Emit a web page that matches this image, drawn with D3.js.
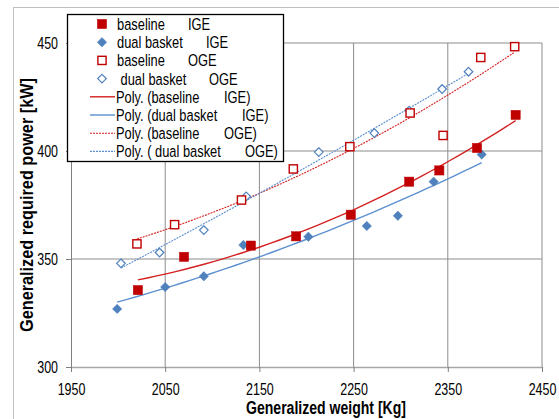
<!DOCTYPE html>
<html><head><meta charset="utf-8">
<script src="https://cdn.jsdelivr.net/npm/d3@7"></script>
<style>
html,body{margin:0;padding:0;background:#fff;}
text{font-family:"Liberation Sans",Arial,sans-serif;fill:#000;}
</style></head>
<body><svg id="c" width="559" height="419"></svg>
<script>
// ---- data ----
const xTicks = [1950, 2050, 2150, 2250, 2350, 2450];
const yTicks = [300, 350, 400, 450];
const baselineIGE_x = [2021, 2070, 2141, 2189, 2247, 2309, 2341, 2381, 2422];
const baselineIGE_y = [335.6, 351, 356.2, 360.5, 370.5, 385.8, 391, 401.4, 416.7];
const dualIGE_x = [1999, 2050, 2091, 2133, 2202, 2264, 2297, 2335, 2386];
const dualIGE_y = [326.9, 337, 342, 356.5, 360.3, 365.3, 370, 385.8, 398.4];
const baselineOGE_x = [2020, 2060, 2131, 2186, 2246, 2310, 2345, 2385, 2421];
const baselineOGE_y = [357, 365.9, 377.3, 391.7, 402, 417.6, 407.2, 443.3, 448.3];
const dualOGE_x = [2003, 2044, 2091, 2136, 2213, 2272, 2309, 2344, 2372];
const dualOGE_y = [348, 353, 363.4, 379, 399.5, 408.3, 418.7, 428.7, 436.7];
const seriesNames = [["baseline", "IGE"], ["dual basket", "IGE"], ["baseline", "OGE"], [" dual basket", "OGE"]];
const trendNames = [["Poly. (baseline", "IGE)"], ["Poly. (dual basket", "IGE)"], ["Poly. (baseline", "OGE)"], ["Poly. ( dual basket", "OGE)"]];
const xTitle = "Generalized weight [Kg]";
const yTitle = "Generalized required power [kW]";

const RED = "#C00000", BLUE = "#4F81BD", TRED = "#D42020", TBLUE = "#5B8FD0";
const series = [
  {x: baselineIGE_x, y: baselineIGE_y, shape: "square", fill: true, color: RED, tcolor: TRED, dash: null},
  {x: dualIGE_x, y: dualIGE_y, shape: "diamond", fill: true, color: BLUE, tcolor: TBLUE, dash: null},
  {x: baselineOGE_x, y: baselineOGE_y, shape: "square", fill: false, color: RED, tcolor: TRED, dash: "2,1"},
  {x: dualOGE_x, y: dualOGE_y, shape: "diamond", fill: false, color: BLUE, tcolor: TBLUE, dash: "2,1"}
];

// condense text horizontally (narrow font look) via a horizontal scale
function narrow(sel, k) {
  k = k || 0.78;
  sel.each(function() {
    const t = d3.select(this);
    const x0 = +(t.attr("x") || 0);
    t.attr("x", x0 / k).attr("transform", `scale(${k},1)`);
  });
}

const svg = d3.select("#c");
const x = d3.scaleLinear().domain([1950, 2450]).range([71, 542]);
const y = d3.scaleLinear().domain([300, 450]).range([367, 43]);

// outer chart border
svg.append("rect").attr("x", 13.5).attr("y", 7.5).attr("width", 600).attr("height", 500)
  .attr("fill", "none").attr("stroke", "#bfbfbf").attr("stroke-width", 1);

// gridlines
const g = svg.append("g");
g.selectAll(".vg").data(xTicks.slice(1)).enter().append("line")
  .attr("x1", d => x(d)).attr("x2", d => x(d)).attr("y1", y(300)).attr("y2", y(450))
  .attr("stroke", "#8c8c8c").attr("stroke-width", 1);
g.selectAll(".hg").data(yTicks.slice(1)).enter().append("line")
  .attr("x1", x(1950)).attr("x2", x(2450)).attr("y1", d => y(d)).attr("y2", d => y(d))
  .attr("stroke", "#8c8c8c").attr("stroke-width", 1);

// axes
const xAxis = d3.axisBottom(x).tickValues(xTicks).tickFormat(d3.format("d")).tickSize(5).tickSizeOuter(0).tickPadding(4);
const xa = svg.append("g").attr("transform", `translate(0,${y(300)})`).call(xAxis);
xa.select(".domain").attr("stroke", "#a6a6a6").attr("stroke-width", 1.5);
xa.selectAll(".tick line").attr("stroke", "#7f7f7f");
xa.selectAll("text").attr("font-size", 16).attr("fill", "#000").attr("font-family", null).attr("dy", null).attr("y", 28.5);
const yAxis = d3.axisLeft(y).tickValues(yTicks).tickFormat(d3.format("d")).tickSize(5).tickSizeOuter(0).tickPadding(8);
const ya = svg.append("g").attr("transform", `translate(${x(1950)},0)`).call(yAxis);
ya.select(".domain").attr("stroke", "#7f7f7f");
ya.selectAll(".tick line").attr("stroke", "#7f7f7f");
ya.selectAll("text").attr("font-size", 16).attr("fill", "#000").attr("font-family", null).attr("dy", "0.36em");
narrow(svg.selectAll(".tick text"));

// axis titles
svg.append("text").attr("x", 326).attr("y", 414).attr("text-anchor", "middle")
  .attr("font-size", 18).attr("font-weight", "bold").attr("textLength", 160).attr("lengthAdjust", "spacingAndGlyphs").text(xTitle);
svg.append("text").attr("transform", "translate(33,205) rotate(-90)").attr("text-anchor", "middle")
  .attr("font-size", 17.5).attr("font-weight", "bold").attr("textLength", 254).attr("lengthAdjust", "spacingAndGlyphs").text(yTitle);

// quadratic least squares fit
function polyfit2(xs, ys) {
  const m = d3.mean(xs), s = 100;
  const u = xs.map(v => (v - m) / s);
  let S = [0,0,0,0,0], T = [0,0,0];
  u.forEach((ui, i) => {
    for (let k = 0; k < 5; k++) S[k] += Math.pow(ui, k);
    for (let k = 0; k < 3; k++) T[k] += Math.pow(ui, k) * ys[i];
  });
  const A = [[S[0],S[1],S[2],T[0]],[S[1],S[2],S[3],T[1]],[S[2],S[3],S[4],T[2]]];
  for (let i = 0; i < 3; i++) {
    for (let j = i + 1; j < 3; j++) {
      const f = A[j][i] / A[i][i];
      for (let k = i; k < 4; k++) A[j][k] -= f * A[i][k];
    }
  }
  const c = [0,0,0];
  for (let i = 2; i >= 0; i--) {
    let v = A[i][3];
    for (let k = i + 1; k < 3; k++) v -= A[i][k] * c[k];
    c[i] = v / A[i][i];
  }
  return xv => { const t = (xv - m) / s; return c[0] + c[1]*t + c[2]*t*t; };
}

const line = d3.line().x(d => x(d[0])).y(d => y(d[1]));
series.forEach(s => {
  const f = polyfit2(s.x, s.y);
  const [lo, hi] = d3.extent(s.x);
  const pts = d3.range(0, 41).map(i => { const xv = lo + (hi - lo) * i / 40; return [xv, f(xv)]; });
  svg.append("path").datum(pts).attr("d", line).attr("fill", "none")
    .attr("stroke", s.tcolor).attr("stroke-width", s.dash ? 1.1 : 1.4)
    .attr("stroke-dasharray", s.dash);
});

function drawMarker(sel, s, cx, cy) {
  if (s.shape === "square") {
    const h = s.fill ? 4.6 : 4.1;
    sel.append("rect").attr("x", cx - h).attr("y", cy - h).attr("width", 2*h).attr("height", 2*h)
      .attr("fill", s.fill ? s.color : "#fff").attr("stroke", s.color).attr("stroke-width", s.fill ? 0.5 : 1.4);
  } else {
    const h = s.fill ? 4.7 : 4.3;
    sel.append("path").attr("d", `M${cx},${cy-h}L${cx+h},${cy}L${cx},${cy+h}L${cx-h},${cy}Z`)
      .attr("fill", s.fill ? s.color : "#fff").attr("stroke", s.color).attr("stroke-width", s.fill ? 0.5 : 1.2);
  }
}
[3, 2, 1, 0].forEach(k => {
  const s = series[k];
  const mg = svg.append("g");
  s.x.forEach((xv, i) => drawMarker(mg, s, x(xv), y(s.y[i])));
});

// legend
const lg = svg.append("g");
lg.append("rect").attr("x", 67.5).attr("y", 14.5).attr("width", 216).attr("height", 147)
  .attr("fill", "#fff").attr("stroke", "#000").attr("stroke-width", 1.3);
const rowY = i => 24 + i * 18.2;
const secondX = [188, 206, 188, 209];
const FS = 16.5;
series.forEach((s, i) => {
  drawMarker(lg, s, 102, rowY(i));
  lg.append("text").attr("x", 117).attr("y", rowY(i) + 6).attr("font-size", FS).attr("xml:space", "preserve").text(seriesNames[i][0]);
  lg.append("text").attr("x", secondX[i]).attr("y", rowY(i) + 6).attr("font-size", FS).text(seriesNames[i][1]);
});
const tSecondX = [224, 242, 224, 245];
series.forEach((s, i) => {
  const ry = rowY(i + 4);
  lg.append("line").attr("x1", 90).attr("x2", 115).attr("y1", ry).attr("y2", ry)
    .attr("stroke", s.tcolor).attr("stroke-width", s.dash ? 1.1 : 1.4).attr("stroke-dasharray", s.dash);
  lg.append("text").attr("x", 116).attr("y", ry + 6).attr("font-size", FS).attr("xml:space", "preserve").text(trendNames[i][0]);
  lg.append("text").attr("x", tSecondX[i]).attr("y", ry + 6).attr("font-size", FS).text(trendNames[i][1]);
});
narrow(lg.selectAll("text"));
</script></body></html>
